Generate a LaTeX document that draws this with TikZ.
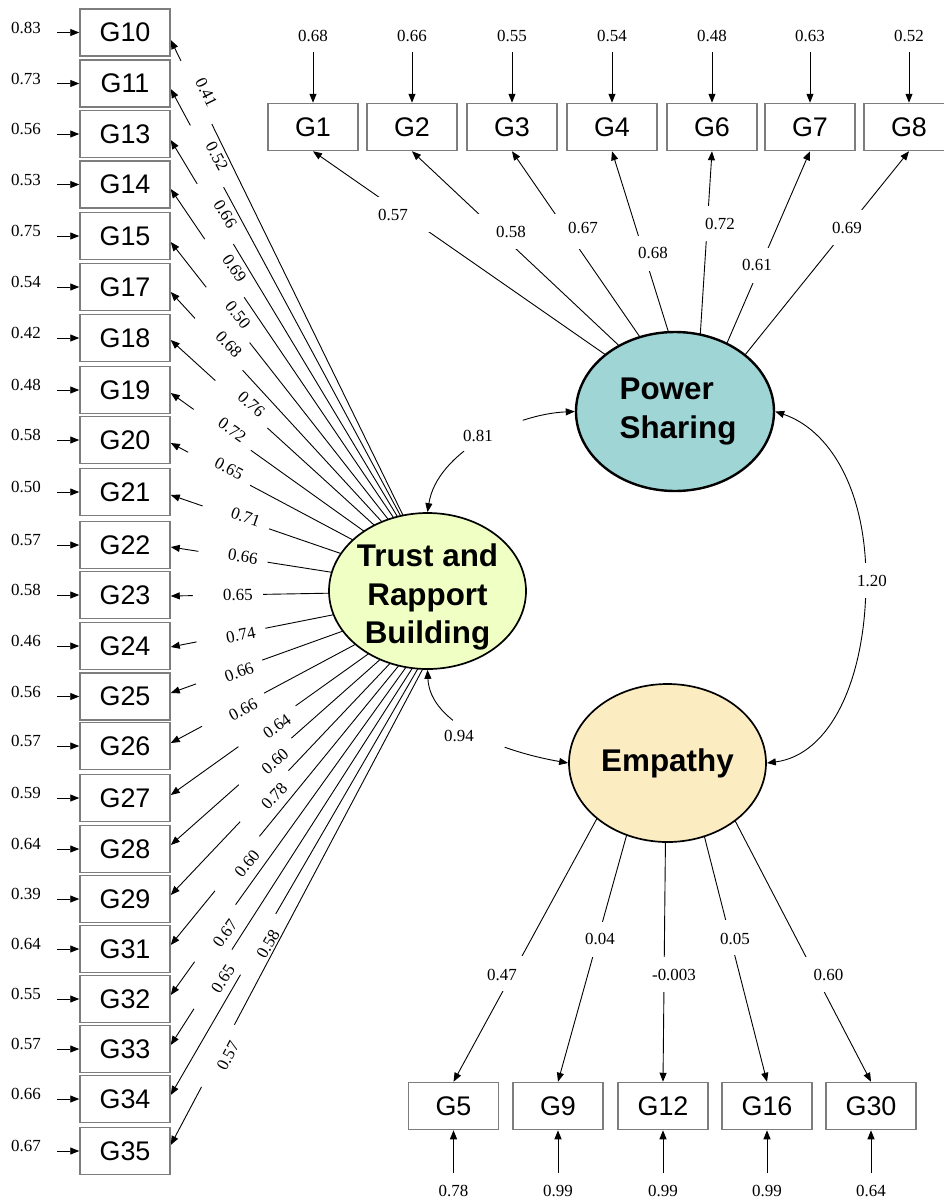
\documentclass[tikz,border=0pt]{standalone}
\usepackage{fontspec}
\setmainfont{Liberation Serif}
\newfontfamily\sansf{Liberation Sans}
\usetikzlibrary{arrows.meta,shapes.geometric}
\pgfdeclarelayer{bg}
\pgfsetlayers{bg,main}
\definecolor{psc}{RGB}{160,213,214}
\definecolor{trc}{RGB}{240,255,196}
\definecolor{emc}{RGB}{251,237,193}
\definecolor{boxc}{RGB}{125,125,125}
\begin{document}
\begin{tikzpicture}[x=1bp,y=-1bp,
  gbox/.style={draw=boxc, line width=1.5bp, minimum width=90bp, minimum height=47bp, inner sep=0pt, font=\sansf\fontsize{27}{30}\selectfont},
  lat/.style={ellipse, draw=black, line width=1.7bp, inner sep=0pt},
  lattext/.style={font=\sansf\bfseries\fontsize{31.5}{38.5}\selectfont, inner sep=0pt},
  num/.style={font=\fontsize{17}{19}\selectfont, inner sep=0.5pt},
  ar/.style={-{Triangle[length=9bp,width=7bp]}, line width=0.9bp},
  ld/.style={ar},
  gapn/.style={fill=white, inner sep=0pt, draw=none},
  cor/.style={{Triangle[length=9bp,width=7bp]}-{Triangle[length=9bp,width=7bp]}, line width=0.9bp}]
\useasboundingbox (0,0) rectangle (944,1201);

% latent variables
\node[lat, fill=psc, line width=2.4bp, minimum width=198bp, minimum height=159bp,
  label={[lattext, align=left, xshift=3bp]center:{Power\\[0.5bp]Sharing}}] (pow) at (675,411.5) {};
\node[lat, fill=trc, minimum width=197bp, minimum height=156bp,
  label={[lattext, align=center, yshift=-6bp]center:{Trust and\\Rapport\\Building}}] (tru) at (427.5,591) {};
\node[lat, fill=emc, minimum width=197bp, minimum height=158bp,
  label={[lattext]center:Empathy}] (emp) at (667.5,763) {};

\coordinate (pA) at (695,417);
\coordinate (eA) at (667,690);

% left indicators (Trust and Rapport Building)
\foreach \n/\yc/\err/\s/\lo/\f [count=\i from 0] in {
 10/32.5/0.83/-7.5/0.41/0.905,
 11/83.5/0.73/-5.5/0.52/0.866,
 13/134/0.56/-6/0.66/0.836,
 14/184.5/0.53/-4.5/0.69/0.803,
 15/236/0.75/-6/0.50/0.791,
 17/287/0.54/-5/0.68/0.825,
 18/338/0.42/-2/0.76/0.744,
 19/390/0.48/-3/0.72/0.814,
 20/440/0.58/-3/0.65/0.826,
 21/492/0.50/-3/0.71/0.767,
 22/545/0.57/-2/0.66/0.778,
 23/595/0.58/-1/0.65/0.797,
 24/646/0.46/-1/0.74/0.787,
 25/696.5/0.56/3.5/0.66/0.794,
 26/746/0.57/3/0.66/0.781,
 27/798/0.59/3/0.64/0.663,
 28/849/0.64/4/0.60/0.671,
 29/899/0.39/4/0.78/0.675,
 31/949/0.64/4/0.60/0.770,
 32/999/0.55/4/0.67/0.847,
 33/1049/0.57/4/0.65/0.855,
 34/1099/0.66/4/0.58/0.701,
 35/1151/0.67/6/0.57/0.839}{
  \node[gbox] (L\n) at (125,\yc) {G\n};
  \node[num] (eL\n) at (26,\yc-5) {\err};
  \draw[ar] ([xshift=-22bp]L\n.west) -- (L\n.west);
  \coordinate (tA\n) at ({440+24*\i/22},591);
  \begin{pgfonlayer}{bg}
    \draw[ld] (tA\n) -- ([yshift=\s bp]L\n.east);
    \path (tA\n) -- ([yshift=\s bp]L\n.east)
      node[gapn, sloped, pos=\f, minimum width=70bp, minimum height=11bp] {};
  \end{pgfonlayer}
  \path ([xshift=10bp]tA\n) -- ([xshift=10bp,yshift=\s bp]L\n.east) node[num, sloped, pos=\f] (lL\n) {\lo};
}

% top indicators (Power Sharing)
\foreach \n/\x/\err/\lo/\fg/\lx/\ly in {
 1/313/0.68/0.57/0.762/393/215,
 2/412/0.66/0.58/0.697/511/232,
 3/512/0.55/0.67/0.697/583/228,
 4/612/0.54/0.68/0.614/653/253,
 6/712/0.48/0.72/0.729/720/224,
 7/810/0.63/0.61/0.569/757/265,
 8/909/0.52/0.69/0.712/847/228}{
  \node[gbox] (T\n) at (\x,127) {G\n};
  \node[num] (eT\n) at (\x,36) {\err};
  \draw[ar] ([yshift=51bp]T\n.north) -- (T\n.north);
  \begin{pgfonlayer}{bg}
    \draw[ld] (pA) -- (T\n.south);
    \path (pA) -- (T\n.south) node[gapn, pos=\fg, minimum width=52bp, minimum height=35bp] {};
  \end{pgfonlayer}
  \node[num] (lT\n) at (\lx,\ly) {\lo};
}

% bottom indicators (Empathy)
\foreach \n/\x/\err/\lo/\fg/\lx/\ly in {
 5/453.5/0.78/0.47/0.723/502/975,
 9/558/0.99/0.04/0.636/600/939,
 12/663/0.99/-0.003/0.726/674/975,
 16/767/0.99/0.05/0.633/735/939,
 30/871/0.64/0.60/0.727/828.5/975}{
  \node[gbox] (B\n) at (\x,1106) {G\n};
  \node[num] (eB\n) at (\x,1191) {\err};
  \draw[ar] ([yshift=-43bp]B\n.south) -- (B\n.south);
  \begin{pgfonlayer}{bg}
    \draw[ld] (eA) -- (B\n.north);
    \path (eA) -- (B\n.north) node[gapn, pos=\fg, minimum width=52bp, minimum height=35bp] {};
  \end{pgfonlayer}
  \node[num] (lB\n) at (\lx,\ly) {\lo};
}

% covariances
\draw[cor] (tru.north) .. controls (437,452) and (515,414) .. (pow.west)
  node[gapn, sloped, pos=0.56, minimum width=66bp, minimum height=10bp] {};
\node[num] (c81) at (478,436) {0.81};
\draw[cor] (tru.south) .. controls (430,725) and (505,752) .. (emp.west)
  node[gapn, sloped, pos=0.52, minimum width=58bp, minimum height=10bp] {};
\node[num] (c94) at (459,736) {0.94};
\draw[cor] (pow.east) .. controls (830,430) and (866,490) .. (866,580)
  node[gapn, minimum width=10bp, minimum height=35bp] {}
  .. controls (866,680) and (830,755) .. (emp.east);
\node[num] (c120) at (872,581) {1.20};
\end{tikzpicture}
\end{document}
